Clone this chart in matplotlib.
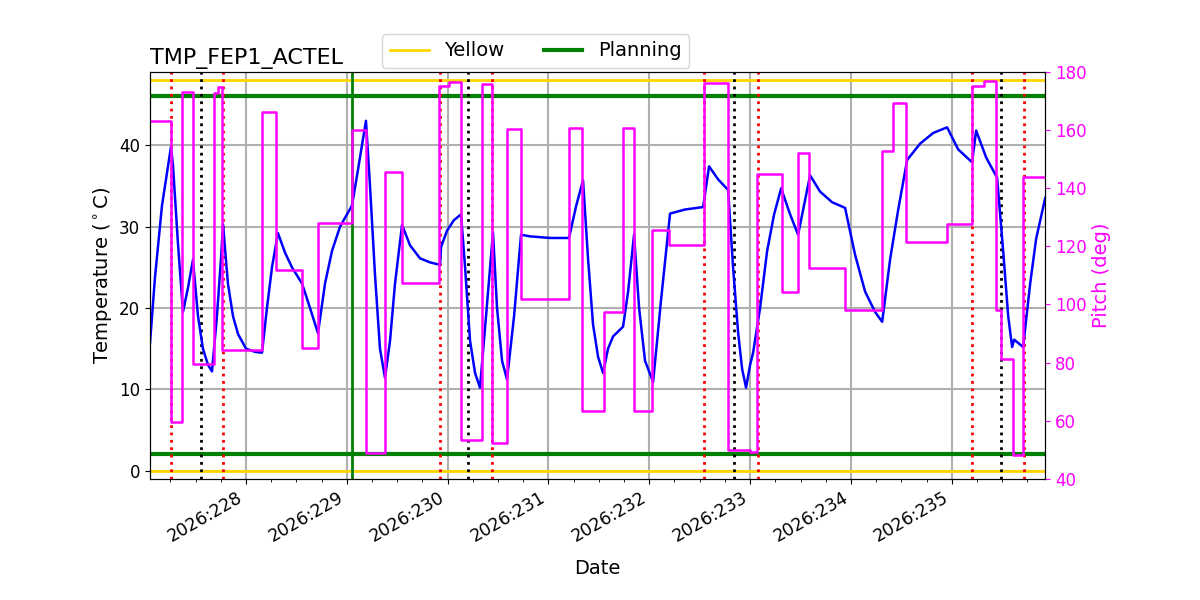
import datetime
import matplotlib
matplotlib.use('Agg')
import matplotlib.pyplot as plt
import matplotlib.dates as mdates

plt.rcParams['font.size'] = 12

# day-of-year 2026 for the temperature trace
temp_doy = [227.048, 227.097, 227.167, 227.256, 227.276, 227.325, 227.375, 227.425, 227.474,
            227.524, 227.573, 227.623, 227.663, 227.712, 227.752, 227.772, 227.821, 227.871,
            227.921, 228.000, 228.089, 228.159, 228.208, 228.258, 228.317, 228.387, 228.456,
            228.556, 228.635, 228.714, 228.784, 228.853, 228.933, 229.052, 229.111, 229.190,
            229.230, 229.280, 229.329, 229.379, 229.429, 229.478, 229.548, 229.627, 229.726,
            229.825, 229.925, 229.935, 229.994, 230.063, 230.133, 230.173, 230.222, 230.272,
            230.321, 230.381, 230.450, 230.490, 230.540, 230.589, 230.659, 230.728, 230.817,
            231.016, 231.204, 231.274, 231.343, 231.393, 231.442, 231.492, 231.542, 231.591,
            231.641, 231.740, 231.790, 231.849, 231.899, 231.958, 232.038, 232.117, 232.206,
            232.355, 232.534, 232.593, 232.683, 232.782, 232.831, 232.881, 232.921, 232.960,
            233.000, 233.030, 233.099, 233.169, 233.238, 233.308, 233.397, 233.476, 233.595,
            233.694, 233.813, 233.942, 234.042, 234.141, 234.240, 234.310, 234.389, 234.468,
            234.558, 234.687, 234.815, 234.954, 235.063, 235.202, 235.242, 235.341, 235.450,
            235.510, 235.560, 235.599, 235.619, 235.708, 235.778, 235.837, 235.927]
temp_vals = [15.7, 23.7, 32.6, 39.8, 37.5, 28.0, 19.5, 22.5, 25.9,
             19.0, 15.0, 13.0, 12.2, 19.0, 26.0, 30.3, 23.0, 19.0,
             16.8, 15.0, 14.6, 14.5, 20.0, 25.0, 29.2, 26.8, 25.0,
             23.0, 20.0, 16.9, 23.0, 27.0, 30.0, 32.6, 37.0, 43.0,
             35.0, 24.0, 15.0, 11.4, 16.0, 23.0, 30.2, 27.7, 26.1,
             25.6, 25.3, 27.5, 29.5, 30.8, 31.5, 25.0, 16.0, 12.0,
             10.2, 19.0, 29.3, 20.0, 13.5, 11.2, 19.0, 29.0, 28.8,
             28.6, 28.6, 32.5, 35.7, 26.0, 18.0, 14.0, 12.0, 15.0,
             16.5, 17.7, 22.0, 29.0, 20.0, 13.5, 10.9, 21.0, 31.6,
             32.1, 32.4, 37.4, 35.8, 34.5, 25.0, 17.0, 12.5, 10.2,
             13.0, 14.5, 20.0, 27.0, 31.5, 34.7, 31.5, 29.0, 36.3,
             34.3, 33.0, 32.3, 26.5, 22.0, 19.5, 18.3, 26.0, 32.0,
             38.2, 40.2, 41.5, 42.2, 39.5, 37.9, 41.8, 38.5, 36.0,
             27.0, 19.0, 15.2, 16.1, 15.2, 23.0, 28.5, 33.5]

# pitch steps (value holds until next time)
pitch_doy = [227.048, 227.256, 227.365, 227.474, 227.683, 227.722, 227.762, 228.159, 228.298,
             228.556, 228.714, 229.052, 229.190, 229.379, 229.548, 229.915, 230.014, 230.133,
             230.341, 230.440, 230.589, 230.728, 231.204, 231.333, 231.552, 231.740, 231.849,
             232.028, 232.196, 232.544, 232.782, 233.000, 233.069, 233.317, 233.476, 233.585,
             233.942, 234.310, 234.419, 234.548, 234.954, 235.202, 235.321, 235.440, 235.490,
             235.609, 235.708, 235.927]
pitch_vals = [163.0, 59.6, 173.0, 79.6, 172.8, 175.0, 84.4, 166.3, 111.9,
              85.0, 128.0, 160.0, 49.0, 145.6, 107.4, 175.2, 176.6, 53.4,
              175.9, 52.4, 160.4, 101.9, 160.7, 63.4, 97.4, 160.7, 63.4,
              125.7, 120.5, 176.3, 50.0, 49.3, 145.0, 104.3, 152.0, 112.6,
              98.1, 152.8, 169.3, 121.5, 127.7, 175.2, 176.9, 98.1, 81.3,
              48.3, 143.9, 143.9]

red_events = [227.256, 227.772, 229.925, 230.440, 232.544, 233.080, 235.200, 235.720]
black_events = [227.553, 230.200, 232.840, 235.490]
green_event = 229.050

yellow_limits = [0, 48]
planning_limits = [2, 46]


def doy_to_date(d):
    return datetime.datetime(2026, 1, 1) + datetime.timedelta(days=d - 1)


t_temp = [doy_to_date(d) for d in temp_doy]
t_pitch = [doy_to_date(d) for d in pitch_doy]

fig = plt.figure(figsize=(12, 6), dpi=100)
ax = fig.add_axes([0.125, 0.202, 0.746, 0.678])

ax.grid(True, color='#b0b0b0', lw=1.5)
ax.plot(t_temp, temp_vals, color='blue', lw=1.8, zorder=3)

for i, y in enumerate(yellow_limits):
    ax.axhline(y, color='gold', lw=2, label='Yellow' if i == 0 else None, zorder=2)
for i, y in enumerate(planning_limits):
    ax.axhline(y, color='green', lw=3, label='Planning' if i == 0 else None, zorder=2)

for d in red_events:
    ax.axvline(doy_to_date(d), color='red', ls=':', lw=2, zorder=2)
for d in black_events:
    ax.axvline(doy_to_date(d), color='black', ls=':', lw=2, zorder=2)
ax.axvline(doy_to_date(green_event), color='green', lw=2, zorder=2)

ax.set_ylim(-1, 49)
ax.set_xlim(doy_to_date(227.048), doy_to_date(235.927))
ax.set_ylabel('Temperature ($^\\circ$C)', fontsize=14)
ax.set_xlabel('Date', fontsize=14, labelpad=10)
ax.set_title('TMP_FEP1_ACTEL', loc='left', fontsize=16)

ax.xaxis.set_major_locator(mdates.DayLocator())
ax.xaxis.set_minor_locator(mdates.HourLocator(byhour=[6, 12, 18]))
ax.xaxis.set_major_formatter(mdates.DateFormatter('%Y:%j'))
ax.tick_params(axis='x', labelsize=12.5)
for lab in ax.get_xticklabels():
    lab.set_rotation(30)
    lab.set_ha('right')

ax.legend(loc='lower center', bbox_to_anchor=(0.431, 0.995), ncol=2, fontsize=14,
          borderaxespad=0.3)

ax2 = ax.twinx()
ax2.plot(t_pitch, pitch_vals, color='magenta', lw=1.8, drawstyle='steps-post')
ax2.set_ylim(40, 180)
ax2.set_ylabel('Pitch (deg)', color='magenta', fontsize=14)
ax2.tick_params(axis='y', colors='magenta')
ax2.set_xlim(doy_to_date(227.048), doy_to_date(235.927))

fig.savefig('out.png', dpi=100)
